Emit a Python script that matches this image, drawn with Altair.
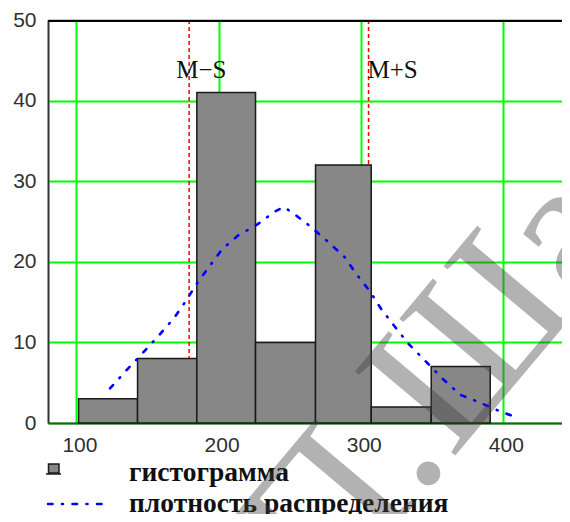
import altair as alt
import pandas as pd

# ---- data ----
bin_left = [101.5, 143.0, 184.7, 226.0, 268.2, 307.4, 349.6]
bin_right = [143.0, 184.7, 226.0, 268.2, 307.4, 349.6, 391.1]
counts = [3, 8, 41, 10, 32, 2, 7]

curve_x = [123.6, 135.5, 146.7, 158.2, 169.0, 177.2, 184.7, 193.4, 202.7, 214.0,
           227.0, 239.3, 245.7, 252.0, 264.5, 276.2, 288.6, 297.3, 306.2, 314.2,
           323.8, 333.2, 345.4, 357.6, 370.0, 382.9, 395.9, 409.4]
curve_y = [4.3, 6.6, 8.7, 10.9, 13.1, 15.2, 17.3, 19.4, 21.6, 23.3,
           24.6, 26.2, 26.8, 26.1, 24.4, 22.6, 20.6, 18.4, 16.4, 14.2,
           12.0, 9.9, 7.7, 5.5, 3.5, 2.6, 1.6, 0.7]

ms_values = [179.3, 305.5]
ms_labels = ["M\u2212S", "M+S"]

x_ticks = [100, 200, 300, 400]
y_ticks = [0, 10, 20, 30, 40, 50]
legend_labels = ["гистограмма", "плотность распределения"]
watermark = "П.Ша"

W, H = 514, 403
GREEN = "#00ff00"

hist_df = pd.DataFrame({"x": bin_left, "x2": bin_right, "y": counts})
curve_df = pd.DataFrame({"x": curve_x, "y": curve_y})
ms_df = pd.DataFrame({"x": ms_values, "label": ms_labels})
one = pd.DataFrame({"k": [0]})

x_axis = alt.Axis(values=x_ticks, title=None, grid=True, gridColor=GREEN, gridWidth=2,
                  domainColor="#444444", domainWidth=2, ticks=False,
                  labelFont="Liberation Sans", labelFontSize=21, labelColor="#303030",
                  labelPadding=11, labelOffset=3, labelFlush=False)
y_axis = alt.Axis(values=y_ticks, title=None, grid=True, gridColor=GREEN, gridWidth=2,
                  domainColor="#333333", domainWidth=2, ticks=False,
                  labelFont="Liberation Sans", labelFontSize=21, labelColor="#303030",
                  labelPadding=12, labelFlush=False)
x_scale = alt.Scale(domain=[80, 441.6], nice=False, zero=False)
y_scale = alt.Scale(domain=[0, 50], nice=False, zero=True)


def X(field="x"):
    return alt.X(f"{field}:Q", scale=x_scale, axis=x_axis)


def Y(field="y"):
    return alt.Y(f"{field}:Q", scale=y_scale, axis=y_axis)


ms_rules = alt.Chart(ms_df).mark_rule(color="#ff0000", strokeWidth=1.5,
                                      strokeDash=[4, 3]).encode(x=X())

bars = alt.Chart(hist_df).mark_rect(fill="#878787", stroke="#1a1a1a", strokeWidth=1.5,
                                    opacity=1).encode(x=X(), x2="x2:Q", y=Y(),
                                                      y2=alt.datum(0))

curve = alt.Chart(curve_df).mark_line(color="#0000ff", strokeWidth=2.6,
                                      strokeDash=[4.5, 9.5, 1, 9.5],
                                      strokeCap="round").encode(x=X(), y=Y())

top_border = alt.Chart(one).mark_rule(color="#000000", strokeWidth=2).encode(
    x=alt.value(0), x2=alt.value(W), y=alt.value(1))

ms_font = dict(font="Liberation Serif", fontSize=25, color="#111111",
               baseline="alphabetic", align="left")
ms_text1 = alt.Chart(ms_df.iloc[[0]]).mark_text(dx=-13, **ms_font).encode(
    x=X(), y=alt.value(58), text="label:N")
ms_text2 = alt.Chart(ms_df.iloc[[1]]).mark_text(dx=-1, **ms_font).encode(
    x=X(), y=alt.value(58), text="label:N")

# legend (drawn below the axis)
leg_rect = alt.Chart(one).mark_rect(fill="#878787", stroke="#1a1a1a", strokeWidth=1.5).encode(
    x=alt.value(0.5), x2=alt.value(11), y=alt.value(444), y2=alt.value(453))
leg_base = alt.Chart(one).mark_rule(color="#1a1a1a", strokeWidth=1.5).encode(
    x=alt.value(-2), x2=alt.value(13), y=alt.value(454))
leg_line = alt.Chart(one).mark_rule(color="#0000ff", strokeWidth=2.6,
                                    strokeDash=[4.5, 9.5, 1, 9.5], strokeCap="round").encode(
    x=alt.value(0), x2=alt.value(57), y=alt.value(484))
leg_font = dict(font="Liberation Serif", fontSize=27.5, fontWeight="bold", color="#111111",
                baseline="alphabetic", align="left")
leg_t1 = alt.Chart(pd.DataFrame({"t": [legend_labels[0]]})).mark_text(**leg_font).encode(
    x=alt.value(81), y=alt.value(461), text="t:N")
leg_t2 = alt.Chart(pd.DataFrame({"t": [legend_labels[1]]})).mark_text(**leg_font).encode(
    x=alt.value(81), y=alt.value(492), text="t:N")

wm = alt.Chart(pd.DataFrame({"t": [watermark]})).mark_text(
    font="Liberation Serif", fontSize=200, angle=310, color="#404040", opacity=0.4,
    align="left", baseline="alphabetic").encode(
    x=alt.value(278.5), y=alt.value(589), text="t:N")

chart = alt.layer(ms_rules, bars, curve, top_border, ms_text1, ms_text2,
                  leg_rect, leg_base, leg_line, leg_t1, leg_t2, wm).properties(
    width=W, height=H,
    padding={"left": 40, "top": 12, "right": 0, "bottom": 91},
    autosize=alt.AutoSizeParams(type="none"),
    background="#ffffff",
).configure_view(stroke=None)

chart.save("out.html", embed_options={"renderer": "svg", "actions": False})
